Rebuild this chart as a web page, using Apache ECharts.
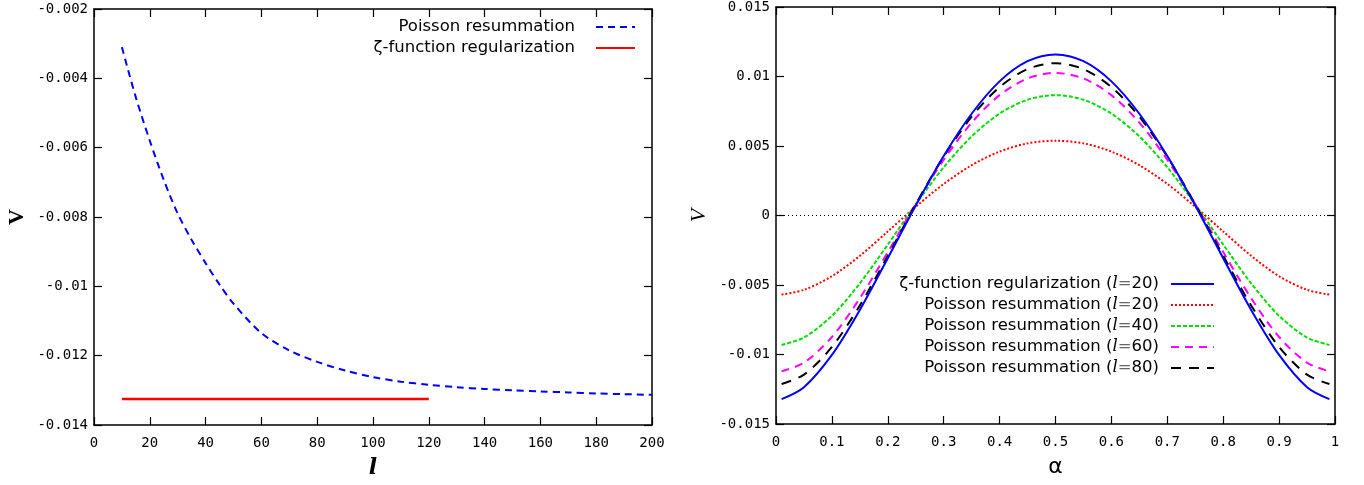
<!DOCTYPE html>
<html>
<head>
<meta charset="utf-8">
<script src="https://cdn.jsdelivr.net/npm/echarts@6/dist/echarts.min.js"></script>
<style>
  html, body { margin: 0; padding: 0; background: #fff; }
  #chart { width: 1364px; height: 485px; }
</style>
</head>
<body>
<div id="chart"></div>
<script>
// left panel: V against l
const lValues = [10, 15, 20, 25, 30, 35, 40, 45, 50, 60, 70, 80, 90, 100, 110, 120, 130, 140, 150, 160, 170, 180, 190, 200];
const poissonByL = [-0.00310, -0.00455, -0.00580, -0.00693, -0.00790, -0.00866, -0.00933, -0.00995, -0.01050, -0.01135, -0.01185, -0.01218,
  -0.01243, -0.01262, -0.01275, -0.01284, -0.01291, -0.01296, -0.01300, -0.01303, -0.01306, -0.01309, -0.01311, -0.01313];
const zetaLRange = [10, 120];
const zetaByL = [-0.01325, -0.01325];

// right panel: V against alpha
const alphaValues = [0.01, 0.05, 0.10, 0.15, 0.20, 0.25, 0.30, 0.35, 0.40, 0.45, 0.50,
  0.55, 0.60, 0.65, 0.70, 0.75, 0.80, 0.85, 0.90, 0.95, 0.99];
const zetaL20 = [-0.01321, -0.01235, -0.01003, -0.00679, -0.00307, 0.00072, 0.00428, 0.00732, 0.00965, 0.01110, 0.01159,
  0.01110, 0.00965, 0.00732, 0.00428, 0.00072, -0.00307, -0.00679, -0.01003, -0.01235, -0.01321];
const poissonL20 = [-0.00569, -0.00535, -0.00437, -0.00290, -0.00115, 0.00063, 0.00227, 0.00362, 0.00460, 0.00519, 0.00538,
  0.00519, 0.00460, 0.00362, 0.00227, 0.00063, -0.00115, -0.00290, -0.00437, -0.00535, -0.00569];
const poissonL40 = [-0.00931, -0.00878, -0.00722, -0.00488, -0.00209, 0.00080, 0.00347, 0.00569, 0.00733, 0.00833, 0.00866,
  0.00833, 0.00733, 0.00569, 0.00347, 0.00080, -0.00209, -0.00488, -0.00722, -0.00878, -0.00931];
const poissonL60 = [-0.01121, -0.01059, -0.00874, -0.00595, -0.00263, 0.00082, 0.00401, 0.00668, 0.00866, 0.00986, 0.01026,
  0.00986, 0.00866, 0.00668, 0.00401, 0.00082, -0.00263, -0.00595, -0.00874, -0.01059, -0.01121];
const poissonL80 = [-0.01212, -0.01145, -0.00946, -0.00647, -0.00290, 0.00081, 0.00424, 0.00711, 0.00924, 0.01053, 0.01096,
  0.01053, 0.00924, 0.00711, 0.00424, 0.00081, -0.00290, -0.00647, -0.00946, -0.01145, -0.01212];

const leftNames = ['Poisson resummation', 'ζ-function regularization'];
const rightNames = ['ζ-function regularization (l=20)', 'Poisson resummation (l=20)', 'Poisson resummation (l=40)',
  'Poisson resummation (l=60)', 'Poisson resummation (l=80)'];

const pair = (xs, ys) => xs.map((x, i) => [x, ys[i]]);
const tickFmt = v => String(+v.toFixed(3));

const chart = echarts.init(document.getElementById('chart'));

const labelStyle = { fontFamily: 'DejaVu Sans Mono', fontSize: 14, color: '#000' };
const lineAxis = { show: true, onZero: false, lineStyle: { color: '#000', width: 1.5 } };
const tickIn = { show: true, inside: true, length: 8, lineStyle: { color: '#000', width: 1.2 } };

function xPair(grid, min, max, interval, name, nameStyle) {
  return [
    {
      gridIndex: grid, type: 'value', position: 'bottom', min, max, interval,
      axisLine: lineAxis, axisTick: tickIn, splitLine: { show: false },
      axisLabel: Object.assign({ margin: 11, formatter: tickFmt }, labelStyle),
      name, nameLocation: 'middle', nameGap: 32, nameTextStyle: nameStyle
    },
    {
      gridIndex: grid, type: 'value', position: 'top', min, max, interval,
      axisLine: lineAxis, axisTick: tickIn, splitLine: { show: false }, axisLabel: { show: false }
    }
  ];
}
function yPair(grid, min, max, interval, name, nameStyle) {
  return [
    {
      gridIndex: grid, type: 'value', position: 'left', min, max, interval,
      axisLine: lineAxis, axisTick: tickIn, splitLine: { show: false },
      axisLabel: Object.assign({ margin: 6, formatter: tickFmt }, labelStyle),
      name, nameLocation: 'middle', nameGap: 66, nameRotate: 90, nameTextStyle: nameStyle
    },
    {
      gridIndex: grid, type: 'value', position: 'right', min, max, interval,
      axisLine: lineAxis, axisTick: tickIn, splitLine: { show: false }, axisLabel: { show: false }
    }
  ];
}

const legendText = {
  fontFamily: 'DejaVu Sans', fontSize: 16.5, color: '#000', lineHeight: 20,
  rich: {
    i: { fontFamily: 'DejaVu Serif', fontStyle: 'italic', fontSize: 16.5, color: '#000' },
    e: { fontFamily: 'DejaVu Sans', fontSize: 16.5, color: '#666' }
  }
};
function legendFor(name, right, top, gap, width) {
  return {
    data: [name], right, top, align: 'right', padding: 0,
    itemWidth: width, itemHeight: 14, selectedMode: false,
    itemStyle: { opacity: 0 },
    textStyle: Object.assign({ padding: [0, gap, 0, 0] }, legendText),
    formatter: n => n.replace('(l=', '({i|l}{e|=}')
  };
}

const option = {
  animation: false,
  backgroundColor: '#fff',
  grid: [
    { left: 94, top: 9, width: 558, height: 416 },
    { left: 776, top: 6, width: 559, height: 418 }
  ],
  xAxis: [
    ...xPair(0, 0, 200, 20, 'l', { fontFamily: 'DejaVu Serif', fontStyle: 'italic', fontWeight: 'bold', fontSize: 22, color: '#000' }),
    ...xPair(1, 0, 1, 0.1, 'α', { fontFamily: 'DejaVu Sans', fontSize: 22, color: '#000' })
  ],
  yAxis: [
    ...yPair(0, -0.014, -0.002, 0.002, 'V', { fontFamily: 'Liberation Serif', fontWeight: 'bold', fontSize: 22, color: '#000' }),
    ...yPair(1, -0.015, 0.015, 0.005, 'V', { fontFamily: 'Liberation Serif', fontStyle: 'italic', fontSize: 22, color: '#000' })
  ],
  legend: [
    ...leftNames.map((n, i) => legendFor(n, 728, 17 + i * 21, 16, 39)),
    ...rightNames.map((n, i) => legendFor(n, 149, 274 + i * 21, 7, 43))
  ],
  series: [
    {
      name: leftNames[0], type: 'line', xAxisIndex: 0, yAxisIndex: 0, smooth: 0.3,
      symbol: 'none', data: pair(lValues, poissonByL),
      lineStyle: { color: '#0000ff', width: 2, type: [7, 5] }, itemStyle: { color: '#0000ff' }
    },
    {
      name: leftNames[1], type: 'line', xAxisIndex: 0, yAxisIndex: 0,
      symbol: 'none', data: pair(zetaLRange, zetaByL),
      lineStyle: { color: '#ff0000', width: 2.5 }, itemStyle: { color: '#ff0000' }
    },
    {
      name: rightNames[0], type: 'line', xAxisIndex: 2, yAxisIndex: 2, smooth: 0.3, z: 6,
      symbol: 'none', data: pair(alphaValues, zetaL20),
      lineStyle: { color: '#0000ff', width: 2 }, itemStyle: { color: '#0000ff' },
      markLine: {
        silent: true, symbol: 'none', label: { show: false }, z: 1,
        lineStyle: { color: '#000', width: 1, type: [1, 3] },
        data: [{ yAxis: 0 }]
      }
    },
    {
      name: rightNames[1], type: 'line', xAxisIndex: 2, yAxisIndex: 2, smooth: 0.3,
      symbol: 'none', data: pair(alphaValues, poissonL20),
      lineStyle: { color: '#ff0000', width: 2, type: [2, 2] }, itemStyle: { color: '#ff0000' }
    },
    {
      name: rightNames[2], type: 'line', xAxisIndex: 2, yAxisIndex: 2, smooth: 0.3,
      symbol: 'none', data: pair(alphaValues, poissonL40),
      lineStyle: { color: '#00e000', width: 2, type: [4, 2] }, itemStyle: { color: '#00e000' }
    },
    {
      name: rightNames[3], type: 'line', xAxisIndex: 2, yAxisIndex: 2, smooth: 0.3,
      symbol: 'none', data: pair(alphaValues, poissonL60),
      lineStyle: { color: '#ff00ff', width: 2, type: [8, 6] }, itemStyle: { color: '#ff00ff' }
    },
    {
      name: rightNames[4], type: 'line', xAxisIndex: 2, yAxisIndex: 2, smooth: 0.3,
      symbol: 'none', data: pair(alphaValues, poissonL80),
      lineStyle: { color: '#000000', width: 2, type: [10, 8] }, itemStyle: { color: '#000000' }
    }
  ]
};

chart.setOption(option);
</script>
</body>
</html>
